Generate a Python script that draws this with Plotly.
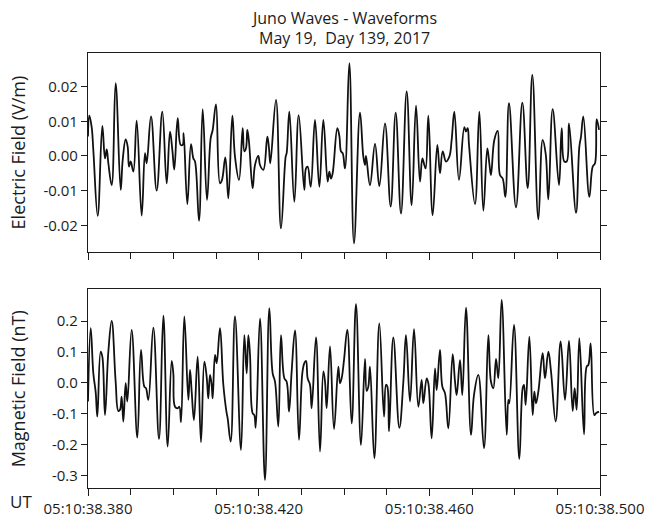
import numpy as np
import plotly.graph_objects as go

# Juno Waves waveform snapshot, 2017-05-19 (day 139), starting at 05:10:38.380 UT.
# Time is in milliseconds after 05:10:38.380.

e_time_ms = [
    0.00, 0.31, 0.86, 1.25, 2.27, 3.36, 3.98, 4.38, 4.77, 5.55, 6.48, 7.66, 8.13, 8.83, 9.30, 9.61,
    10.00, 10.63, 11.41, 12.58, 13.36, 13.75, 14.77, 16.09, 17.42, 18.44, 19.22, 19.77, 20.23, 21.02,
    21.72, 22.19, 22.42, 23.28, 24.14, 24.69, 25.08, 26.02, 26.88, 27.89, 28.75, 29.22, 30.00, 30.94,
    31.41, 32.19, 32.89, 33.83, 34.45, 35.39, 36.25, 36.64, 37.03, 37.34, 37.73, 38.59, 39.14, 39.92,
    40.31, 41.09, 42.03, 42.42, 42.73, 44.06, 45.23, 46.33, 46.56, 47.19, 48.36, 49.38, 50.70, 51.09,
    51.48, 52.19, 53.20, 54.22, 55.16, 56.17, 56.56, 56.95, 57.34, 58.44, 58.91, 59.30, 59.69, 60.23,
    61.25, 62.34, 63.75, 64.53, 64.92, 65.16, 66.09, 67.27, 68.28, 69.61, 70.94, 72.11, 73.36, 74.69,
    75.86, 76.88, 77.81, 78.36, 78.83, 79.14, 79.77, 80.78, 81.88, 82.50, 83.13, 83.91, 84.69, 85.23,
    85.86, 86.95, 88.20, 88.59, 88.98, 89.30, 90.70, 91.72, 92.66, 93.59, 94.06, 94.45, 95.23, 96.02,
    96.56, 97.19, 97.81, 98.67, 100.31, 101.80, 103.05, 104.14, 105.55, 106.56, 107.27, 107.89,
    108.91, 110.39, 111.02, 111.64, 112.19, 112.73, 114.38, 115.16, 115.55, 116.09, 117.50, 118.28,
    118.83, 119.22, 119.77,
]

# Electric field in mV/m
e_field_mv = [
    5.6, 11.6, 8.3, 1.7, -17.3, 8.7, -0.7, 1.9, -2.1, -8.4, 21.0, -9.8, -1.2, 4.8, 2.7, -3.1,
    -1.6, -4.5, 10.2, -17.2, 0.8, -2.1, 11.4, -10.0, 12.8, -7.9, 7.0, 1.7, -3.9, 10.9,
    3.2, 3.2, 6.6, -13.9, 3.4, -0.7, -1.6, -18.7, 13.5, -12.7, 5.1, 7.5, 14.9, -7.9,
    -6.9, -0.4, -12.2, 11.6, -0.2, -6.9, 8.0, 1.3, 2.2, 7.5, 4.1, -9.3, -2.6, 0.0,
    -2.6, -4.0, 5.6, 2.2, -2.1, 16.2, -20.9, -0.2, 0.8, 12.8, -13.2, 11.8, -9.8, -3.6,
    -3.1, -8.9, 10.4, -8.9, 10.4, -7.4, -4.5, -6.5, -5.0, 8.0, 5.8, 1.3, 0.8, -3.6,
    26.8, -25.2, 12.5, -0.2, -2.6, 0.0, -8.4, 3.5, -8.7, 9.4, -14.6, 12.5, -16.6, 18.6,
    -14.2, 14.5, -7.4, -0.7, -2.6, -3.6, 11.6, -17.1, 3.2, -5.0, 1.3, -1.6, -0.2, 4.6,
    12.8, -6.9, 8.3, 7.0, 8.0, 3.2, -13.9, 12.8, -15.8, 2.2, -2.1, -5.5, 4.6, 7.2,
    -5.5, -6.5, -11.8, 15.2, -14.8, 15.4, -9.3, 23.4, -18.3, 4.6, 0.6, -12.5,
    13.5, -8.4, 8.0, -1.6, -1.6, 9.4, -16.4, 2.7, 5.6, 11.4, -11.8, -3.1,
    -2.1, 10.6, 7.5,
]

b_time_ms = [
    0.00, 0.63, 1.25, 1.80, 2.19, 2.97, 3.36, 3.98, 4.77, 5.55, 6.48, 7.11, 7.50, 7.89, 8.28, 8.83,
    9.22, 10.23, 11.56, 12.42, 13.20, 13.59, 14.14, 15.31, 16.64, 17.66, 18.67, 19.61, 20.00, 20.39,
    21.02, 21.41, 21.80, 22.58, 23.52, 23.91, 24.30, 24.84, 25.70, 26.48, 27.27, 27.81, 28.20, 28.59,
    28.98, 29.22, 29.77, 30.16, 30.94, 31.72, 32.50, 32.73, 33.44, 34.45, 35.86, 36.64, 37.19, 37.58,
    37.97, 38.59, 38.98, 39.30, 40.31, 41.48, 42.50, 43.28, 43.83, 44.61, 45.23, 46.02, 46.56, 47.11,
    47.73, 48.52, 49.45, 50.23, 50.70, 51.09, 51.48, 52.03, 52.42, 53.44, 54.38, 55.16, 55.55, 55.94,
    56.72, 57.66, 58.67, 59.06, 59.45, 60.00, 60.78, 61.80, 62.81, 63.98, 64.92, 65.31, 65.70, 66.09,
    67.11, 68.28, 69.38, 69.84, 70.16, 70.55, 71.56, 72.97, 73.91, 74.53, 75.47, 76.41, 77.42, 78.20,
    78.59, 79.38, 79.77, 80.55, 81.33, 81.72, 82.50, 83.05, 83.67, 84.45, 85.47, 86.02, 86.41, 87.19,
    87.73, 88.59, 89.77, 90.47, 91.48, 92.81, 93.83, 94.45, 95.00, 95.63, 96.17, 96.95, 98.13, 98.52,
    98.75, 99.84, 101.09, 101.88, 102.19, 102.58, 103.44, 104.22, 104.61, 105.00, 105.55, 106.56,
    107.11, 107.89, 108.52, 109.61, 110.78, 111.80, 112.73, 113.59, 114.06, 114.53, 115.16, 116.25,
    116.88, 117.27, 117.81, 118.67, 119.06, 119.77,
]

# Magnetic field in nT
b_field_nt = [
    -0.060, 0.177, 0.031, -0.030, -0.109, 0.101, 0.085, -0.104, 0.101, 0.201, 0.004, -0.091, -0.087, -0.044, -0.125, -0.001,
    -0.060, 0.172, -0.177, 0.107, -0.012, -0.017, -0.055, 0.179, -0.181, 0.218, -0.206, 0.071, 0.031, -0.077,
    -0.082, -0.077, -0.127, 0.215, -0.055, 0.042, -0.028, -0.120, 0.085, -0.192, 0.069, 0.020, -0.050, 0.026,
    -0.006, -0.050, 0.091, 0.064, 0.177, -0.006, -0.098, -0.114, -0.190, 0.215, -0.217, 0.155, 0.031, 0.155,
    0.091, -0.098, -0.104, -0.145, 0.209, -0.314, 0.242, 0.031, 0.004, -0.141, 0.155, 0.015, 0.004, -0.093,
    0.037, 0.170, -0.184, 0.031, 0.064, 0.071, 0.015, -0.006, -0.082, 0.147, -0.222, 0.037, 0.004, -0.082,
    0.118, -0.149, 0.053, -0.001, 0.015, 0.074, 0.172, -0.131, 0.255, -0.201, 0.078, -0.026, -0.012, 0.053,
    -0.244, 0.193, -0.109, -0.006, -0.012, -0.157, 0.147, -0.145, 0.004, 0.155, -0.060, 0.174, -0.077, 0.010,
    -0.066, 0.015, -0.001, -0.179, 0.047, -0.023, 0.107, -0.012, -0.033, -0.147, 0.093, 0.004, -0.039, 0.074,
    -0.039, 0.244, -0.168, -0.039, 0.026, -0.211, 0.155, 0.004, -0.017, 0.078, 0.015, 0.269, -0.168, -0.055,
    -0.066, 0.188, -0.246, -0.017, -0.006, -0.071, 0.150, -0.104, -0.028, -0.066, -0.028, 0.096,
    0.015, 0.101, 0.037, -0.125, 0.134, -0.055, 0.136, -0.091, -0.017, -0.087, 0.145, -0.166,
    0.053, 0.058, 0.128, -0.104, -0.098, -0.093,
]

# Axis ticks
x_major_ms = [0, 40, 80, 120]
x_major_text = ["05:10:38.380", "05:10:38.420", "05:10:38.460", "05:10:38.500"]
e_ticks = [0.02, 0.01, 0.0, -0.01, -0.02]
e_tick_text = ["0.02", "0.01", "0.00", "-0.01", "-0.02"]
b_ticks = [0.2, 0.1, 0.0, -0.1, -0.2, -0.3]
b_tick_text = ["0.2", "0.1", "0.0", "-0.1", "-0.2", "-0.3"]

e_field = np.array(e_field_mv) / 1000.0  # V/m

FONT = "Open Sans"
INK = "#1c1c1c"
line_style = dict(color="#111111", width=1.8, shape="spline", smoothing=1.15)

fig = go.Figure()
fig.add_trace(go.Scatter(x=e_time_ms, y=e_field, mode="lines", line=line_style,
                         xaxis="x", yaxis="y", showlegend=False))
fig.add_trace(go.Scatter(x=b_time_ms, y=b_field_nt, mode="lines", line=line_style,
                         xaxis="x2", yaxis="y2", showlegend=False))

common_x = dict(
    range=[0, 120], showgrid=False, zeroline=False, showline=True, linecolor=INK,
    linewidth=1.2, mirror=True, ticks="outside", tickcolor=INK, tickwidth=1.2,
    ticklen=7, tickvals=x_major_ms, automargin=False,
    minor=dict(dtick=10, tick0=0, ticks="outside", ticklen=6, tickcolor=INK, tickwidth=1.2),
)
common_y = dict(
    showgrid=False, zeroline=False, showline=True, linecolor=INK, linewidth=1.2,
    mirror="ticks", ticks="outside", tickcolor=INK, tickwidth=1.2, ticklen=6,
    automargin=False,
    tickfont=dict(family=FONT, size=15, color=INK),
)

fig.update_layout(
    width=647, height=521,
    margin=dict(l=88, r=47, t=53, b=33, autoexpand=False),
    paper_bgcolor="white", plot_bgcolor="white",
    font=dict(family=FONT, color=INK),
    xaxis=dict(**common_x, domain=[0, 1], anchor="y", showticklabels=False),
    yaxis=dict(**common_y, domain=[0.5425, 1.0], anchor="x",
               range=[-0.0277, 0.0297], tickvals=e_ticks, ticktext=e_tick_text),
    xaxis2=dict(**common_x, domain=[0, 1], anchor="y2", ticktext=x_major_text,
                tickfont=dict(family=FONT, size=15, color=INK)),
    yaxis2=dict(**common_y, domain=[0.0, 0.4575], anchor="x2",
                range=[-0.340, 0.304], tickvals=b_ticks, ticktext=b_tick_text),
)

annotations = [
    dict(text="Juno Waves - Waveforms", x=0.5, y=1.080, size=16),
    dict(text="May 19,  Day 139, 2017", x=0.5, y=1.034, size=16),
    dict(text="Electric Field (V/m)", x=-0.137, y=0.7712, angle=-90, size=18),
    dict(text="Magnetic Field (nT)", x=-0.137, y=0.2287, angle=-90, size=18),
    dict(text="UT", x=-0.131, y=-0.032, angle=0, size=17),
]
for a in annotations:
    fig.add_annotation(xref="paper", yref="paper", showarrow=False,
                       xanchor="center", yanchor="middle",
                       text=a["text"], x=a["x"], y=a["y"],
                       textangle=a.get("angle", 0),
                       font=dict(family=FONT, size=a["size"], color=INK))

fig.write_html("out.html")
